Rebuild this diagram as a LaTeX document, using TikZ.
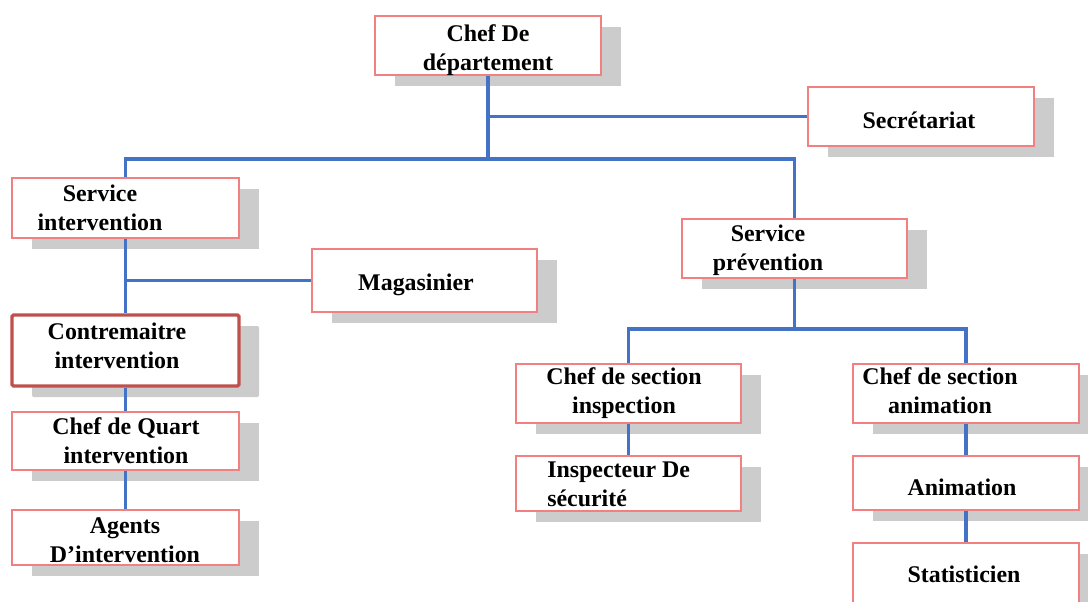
\documentclass[tikz,border=0pt]{standalone}
\usepackage{fontspec}
\setmainfont{Liberation Serif}
\usetikzlibrary{fit,shadows}

\definecolor{boxred}{RGB}{243,128,128}
\definecolor{bossred}{RGB}{192,80,77}
\definecolor{linkblue}{RGB}{68,114,196}
\definecolor{shade}{RGB}{204,204,204}

\tikzset{
  poste/.style={draw=boxred, line width=0.8pt, fill=white, inner sep=0pt,
    drop shadow={shadow xshift=0.5cm, shadow yshift=-0.275cm, fill=shade, opacity=1}},
  chefposte/.style={poste, draw=bossred, line width=2.4pt, rounded corners=1pt},
  libelle/.style={font=\fontsize{17}{20.2}\selectfont\bfseries, align=center, inner sep=0pt, anchor=base},
  lien/.style={draw=linkblue, line width=2.4pt}
}

\begin{document}
\begin{tikzpicture}[x=0.025cm, y=-0.025cm]
  \useasboundingbox (0,0) rectangle (1088,601);

  % Direction
  \node[poste, fit={(375,16) (601,75)}] (chef) {};
  \node[libelle] (chef-t) at (488,70) {Chef De\\département};
  \node[poste, fit={(808,87) (1034,146)}] (secr) {};
  \node[libelle] (secr-t) at (919,128) {Secrétariat};

  % Service intervention
  \node[poste, fit={(12,178) (239,238)}] (si) {};
  \node[libelle] (si-t) at (100,230) {Service\\intervention};
  \node[poste, fit={(312,249) (537,312)}] (mag) {};
  \node[libelle] (mag-t) at (416,290) {Magasinier};
  \node[chefposte, fit={(12,315) (239,386)}] (cm) {};
  \node[libelle] (cm-t) at (117,368) {Contremaitre\\intervention};
  \node[poste, fit={(12,412) (239,470)}] (cq) {};
  \node[libelle] (cq-t) at (126,463) {Chef de Quart\\intervention};
  \node[poste, fit={(12,510) (239,565)}] (ag) {};
  \node[libelle] (ag-t) at (125,562) {Agents\\D’intervention};

  % Service prevention
  \node[poste, fit={(682,219) (907,278)}] (sp) {};
  \node[libelle] (sp-t) at (768,270) {Service\\prévention};
  \node[poste, fit={(516,364) (741,423)}] (csi) {};
  \node[libelle] (csi-t) at (624,413) {Chef de section\\inspection};
  \node[poste, fit={(516,456) (741,511)}] (insp) {};
  \node[libelle, align=left, anchor=base west] (insp-t) at (547,506) {Inspecteur De\\sécurité};
  \node[poste, fit={(853,364) (1079,423)}] (csa) {};
  \node[libelle] (csa-t) at (940,413) {Chef de section\\animation};
  \node[poste, fit={(853,456) (1079,510)}] (anim) {};
  \node[libelle] (anim-t) at (962,495) {Animation};
  \node[poste, fit={(853,543) (1079,620)}] (stat) {};
  \node[libelle] (stat-t) at (964,582) {Statisticien};

  % liaisons
  \coordinate (bus) at (0,159);
  \coordinate (busprev) at (0,329);
  \draw[lien] (chef.south) -- (chef.south |- bus);
  \draw[lien] (chef.south |- secr.west) -- (secr.west);
  \draw[lien] (si.north) -- (si.north |- bus) -- (sp.north |- bus) -- (sp.north);
  \draw[lien] (si.south) -- (cm.north);
  \draw[lien] (si.south |- mag.west) -- (mag.west);
  \draw[lien] (cm.south) -- (cq.north);
  \draw[lien] (cq.south) -- (ag.north);
  \draw[lien] (sp.south) -- (sp.south |- busprev);
  \draw[lien] (csi.north) -- (csi.north |- busprev) -- (csa.north |- busprev) -- (csa.north);
  \draw[lien] (csi.south) -- (insp.north);
  \draw[lien] (csa.south) -- (anim.north);
  \draw[lien] (anim.south) -- (stat.north);
\end{tikzpicture}
\end{document}
